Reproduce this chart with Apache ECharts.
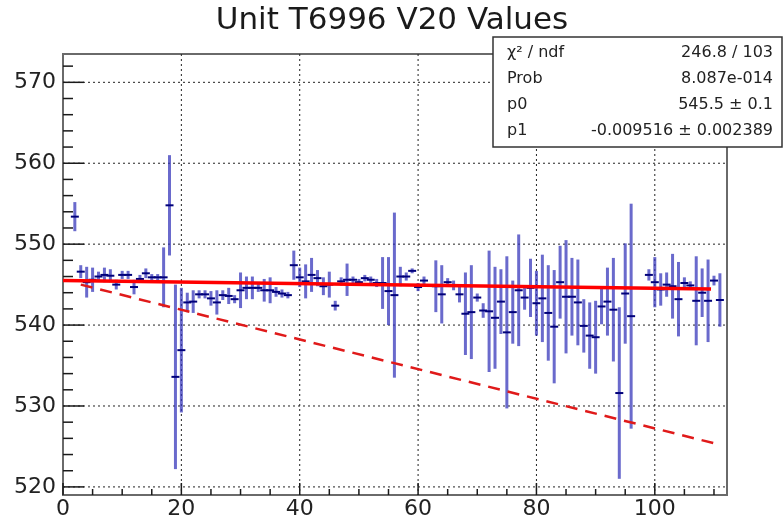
<!DOCTYPE html>
<html>
<head>
<meta charset="utf-8">
<script src="https://cdn.jsdelivr.net/npm/echarts@6/dist/echarts.min.js"></script>
<style>
html, body { margin: 0; padding: 0; background: #fff; }
#chart { width: 784px; height: 520px; }
</style>
</head>
<body>
<div id="chart"></div>
<script>
// Measurement index (x) of each run
const runX = [
  2, 3, 4, 5, 6, 7, 8, 9, 10, 11, 12, 13, 14, 15, 16, 17, 18, 19, 20,
  21, 22, 23, 24, 25, 26, 27, 28, 29, 30, 31, 32, 33, 34, 35, 36, 37, 38, 39,
  40, 41, 42, 43, 44, 45, 46, 47, 48, 49, 50, 51, 52, 53, 54, 55, 56, 57, 58, 59, 60, 61,
  63, 64, 65, 66, 67, 68, 69, 70, 71, 72, 73, 74, 75, 76, 77, 78, 79, 80,
  81, 82, 83, 84, 85, 86, 87, 88, 89, 90, 91, 92, 93, 94, 95, 96,
  99, 100, 101, 102, 103, 104, 105, 106, 107, 108, 109, 110, 111
];
// V20 value of each run
const runV = [
  553.4, 546.6, 545.3, 545.6, 546.0, 546.2, 546.1, 545.0, 546.2, 546.2, 544.7, 545.7, 546.4, 545.9, 545.9, 545.9, 554.8, 533.6, 536.9,
  542.8, 542.9, 543.8, 543.8, 543.3, 542.8, 543.7, 543.6, 543.2, 544.3, 544.6, 544.6, 544.6, 544.3, 544.3, 544.1, 543.9, 543.7, 547.4,
  545.9, 545.4, 546.2, 545.8, 544.8, 545.0, 542.4, 545.4, 545.6, 545.6, 545.3, 545.8, 545.6, 545.2, 545.2, 544.2, 543.7, 546.0, 546.0, 546.7, 544.7, 545.5,
  544.8, 543.8, 545.3, 544.9, 543.8, 541.4, 541.6, 543.4, 541.8, 541.7, 540.9, 542.9, 539.1, 541.6, 544.3, 543.4, 544.6, 542.7,
  543.3, 541.5, 539.8, 545.3, 543.5, 543.5, 542.8, 539.9, 538.7, 538.5, 542.3, 542.9, 541.9, 531.6, 543.9, 541.1,
  546.2, 545.3, 544.4, 545.0, 544.8, 543.2, 545.2, 544.9, 543.0, 544.0, 543.0, 545.5, 543.1
];
// Symmetric uncertainty of each run
const runErr = [
  1.8, 0.8, 1.9, 1.5, 0.6, 0.9, 0.8, 0.6, 0.5, 0.5, 0.9, 0.5, 0.6, 0.4, 0.4, 3.7, 6.2, 11.4, 7.7,
  1.2, 1.4, 0.5, 0.5, 0.9, 1.5, 0.6, 1.0, 0.5, 2.2, 1.4, 1.4, 0.5, 1.4, 1.6, 0.6, 0.5, 0.4, 1.8,
  1.2, 2.1, 2.1, 1.0, 1.1, 1.6, 0.6, 0.5, 2.0, 0.4, 0.4, 0.4, 0.4, 0.5, 3.2, 4.2, 10.2, 1.2, 0.5, 0.3, 0.5, 0.5,
  3.2, 3.6, 0.5, 0.6, 1.0, 5.1, 5.8, 0.5, 0.9, 7.5, 6.3, 4.0, 9.4, 3.9, 6.9, 1.5, 3.6, 4.0,
  5.4, 5.9, 7.0, 4.5, 7.0, 4.8, 5.3, 3.3, 4.1, 4.5, 2.2, 4.2, 6.4, 10.6, 6.2, 13.9,
  0.7, 3.1, 2.0, 1.5, 4.0, 4.6, 0.7, 0.5, 5.5, 3.0, 5.1, 0.6, 3.3
];

// Linear fit parameters (p0 + p1 * x) and its drawn range
const fitP0 = 545.5;
const fitP1 = -0.009516;
const fitRange = [0, 109.5];

// Dashed reference line end points
const refX = [3, 110];
const refY = [545.0, 525.4];

// Axis ticks
const xMajorTicks = [0, 20, 40, 60, 80, 100];
const xMinorTicks = [5, 10, 15, 25, 30, 35, 45, 50, 55, 65, 70, 75, 85, 90, 95, 105, 110];
const yMajorTicks = [520, 530, 540, 550, 560, 570];
const yMinorTicks = [522, 524, 526, 528, 532, 534, 536, 538, 542, 544, 546, 548,
                     552, 554, 556, 558, 562, 564, 566, 568, 572];

// Fit statistics box
const statNames = ['\u03c7\u00b2 / ndf', 'Prob', 'p0', 'p1'];
const statValues = ['246.8 / 103', '8.087e-014', '545.5 \u00b1 0.1', '-0.009516 \u00b1 0.002389'];

const titleText = 'Unit T6996 V20 Values';

const FONT = 'DejaVu Sans';
const X_MIN = 0, X_MAX = 112.2, Y_MIN = 519.0, Y_MAX = 573.5;

const chart = echarts.init(document.getElementById('chart'), null, { renderer: 'canvas' });

const tickColor = '#1a1a1a';
const frameColor = '#6a6a6a';
const labelStyle = { fontFamily: FONT, fontSize: 22, color: '#222' };

function makeAxis(kind, ticks) {
  return {
    type: 'value',
    min: kind === 'x' ? X_MIN : Y_MIN,
    max: kind === 'x' ? X_MAX : Y_MAX,
    axisLine: { show: false },
    axisTick: { show: false },
    axisLabel: Object.assign({ show: true, customValues: ticks,
                               margin: kind === 'x' ? 3 : 7 }, labelStyle),
    splitLine: { show: false },
    minorTick: { show: false },
    minorSplitLine: { show: false }
  };
}

// Tick marks placed through the axis scales:
// each entry is [x, y, tick length in px, 0 = on the x axis / 1 = on the y axis]
const tickMarks = []
  .concat(xMajorTicks.map(v => [v, Y_MIN, 12, 0]))
  .concat(xMinorTicks.map(v => [v, Y_MIN, 6, 0]))
  .concat(yMajorTicks.map(v => [X_MIN, v, 21, 1]))
  .concat(yMinorTicks.map(v => [X_MIN, v, 10, 1]));

// Dotted grid at the major ticks
const gridLines = []
  .concat(xMajorTicks.filter(v => v > X_MIN).map(v => [v, Y_MIN, 0]))
  .concat(yMajorTicks.map(v => [X_MIN, v, 1]));

const errorData = runX.map((x, i) => [x, runV[i], runErr[i]]);

const statBoxZ = 100;

const option = {
  animation: false,
  backgroundColor: '#fff',
  title: {
    text: titleText,
    left: 'center',
    top: 0,
    textStyle: { fontFamily: FONT, fontSize: 31, fontWeight: 'normal', color: '#1a1a1a' }
  },
  grid: {
    left: 63, right: 57, top: 54, bottom: 23,
    show: true, borderColor: frameColor, borderWidth: 2, backgroundColor: 'transparent'
  },
  xAxis: makeAxis('x', xMajorTicks),
  yAxis: makeAxis('y', yMajorTicks),
  series: [
    {
      type: 'custom',
      name: 'grid',
      data: gridLines,
      encode: { x: 0, y: 1 },
      clip: false,
      silent: true,
      z: 1,
      renderItem: function (params, api) {
        const cs = params.coordSys;
        const p = api.coord([api.value(0), api.value(1)]);
        const vertical = api.value(2) === 0;
        const shape = vertical
          ? { x1: p[0], y1: cs.y, x2: p[0], y2: cs.y + cs.height }
          : { x1: cs.x, y1: p[1], x2: cs.x + cs.width, y2: p[1] };
        return { type: 'line', shape: shape,
                 style: { stroke: '#222', lineWidth: 1, lineDash: [2, 3] } };
      }
    },
    {
      type: 'custom',
      name: 'ticks',
      data: tickMarks,
      encode: { x: 0, y: 1 },
      clip: false,
      silent: true,
      z: 5,
      renderItem: function (params, api) {
        const p = api.coord([api.value(0), api.value(1)]);
        const len = api.value(2);
        const onX = api.value(3) === 0;
        const shape = onX
          ? { x1: p[0], y1: p[1], x2: p[0], y2: p[1] - len }
          : { x1: p[0], y1: p[1], x2: p[0] + len, y2: p[1] };
        return { type: 'line', shape: shape,
                 style: { stroke: tickColor, lineWidth: 1.5 } };
      }
    },
    {
      type: 'custom',
      name: 'V20',
      data: errorData,
      encode: { x: 0, y: 1 },
      clip: true,
      z: 2,
      renderItem: function (params, api) {
        const x = api.value(0), v = api.value(1), e = api.value(2);
        const hi = api.coord([x, v + e]);
        const lo = api.coord([x, v - e]);
        const c = api.coord([x, v]);
        return {
          type: 'group',
          children: [
            { type: 'line', shape: { x1: hi[0], y1: hi[1], x2: lo[0], y2: lo[1] },
              style: { stroke: 'rgba(48,48,185,0.72)', lineWidth: 3 } },
            { type: 'line', shape: { x1: c[0] - 4, y1: c[1], x2: c[0] + 4, y2: c[1] },
              style: { stroke: '#00007a', lineWidth: 2 } }
          ]
        };
      }
    },
    {
      type: 'line',
      name: 'fit',
      data: fitRange.map(x => [x, fitP0 + fitP1 * x]),
      symbol: 'none',
      z: 4,
      lineStyle: { color: '#ff0000', width: 3.5 }
    },
    {
      type: 'line',
      name: 'reference',
      data: refX.map((x, i) => [x, refY[i]]),
      symbol: 'none',
      z: 3,
      lineStyle: { color: '#e01a1a', width: 2.5, type: [12, 8] }
    }
  ],
  graphic: [
    {
      type: 'rect',
      z: statBoxZ,
      shape: { x: 493, y: 37, width: 289, height: 110 },
      style: { fill: '#fff', stroke: '#333', lineWidth: 1.5 }
    }
  ].concat(statNames.map((name, i) => ({
    type: 'text',
    z: statBoxZ + 1,
    x: 507, y: 53 + i * 26,
    style: { text: name, fontFamily: FONT, fontSize: 16, fill: '#222',
             textAlign: 'left', textVerticalAlign: 'middle' }
  }))).concat(statValues.map((val, i) => ({
    type: 'text',
    z: statBoxZ + 1,
    x: 773, y: 53 + i * 26,
    style: { text: val, fontFamily: FONT, fontSize: 16, fill: '#222',
             textAlign: 'right', textVerticalAlign: 'middle' }
  })))
};

chart.setOption(option);
</script>
</body>
</html>
